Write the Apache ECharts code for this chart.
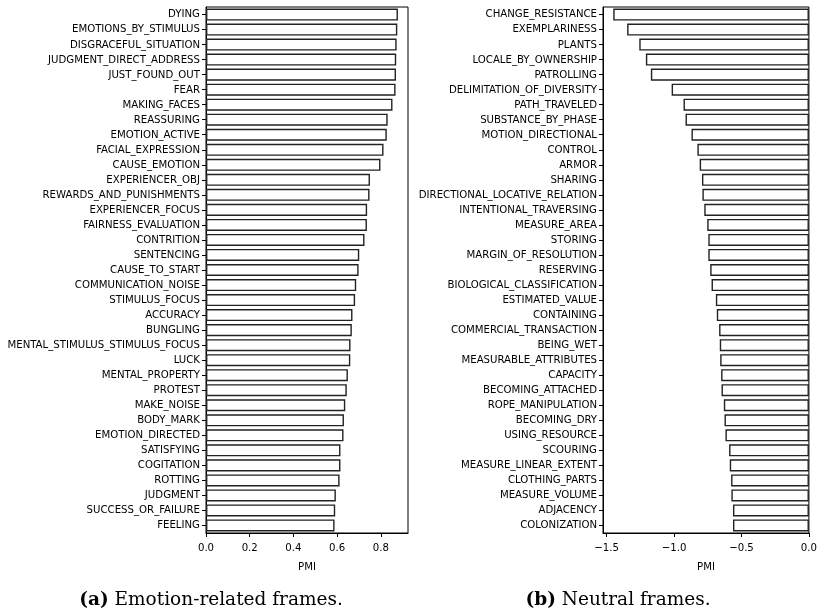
<!DOCTYPE html>
<html>
<head>
<meta charset="utf-8">
<script src="https://cdn.jsdelivr.net/npm/echarts@6/dist/echarts.min.js"></script>
<style>
  html, body { margin: 0; padding: 0; background: #fff; }
  #chart { width: 820px; height: 611px; }
</style>
</head>
<body>
<div id="chart"></div>
<script>
// Emotion-related frames, ordered top to bottom
const emotionFrames = [
  'DYING', 'EMOTIONS_BY_STIMULUS', 'DISGRACEFUL_SITUATION', 'JUDGMENT_DIRECT_ADDRESS',
  'JUST_FOUND_OUT', 'FEAR', 'MAKING_FACES', 'REASSURING', 'EMOTION_ACTIVE',
  'FACIAL_EXPRESSION', 'CAUSE_EMOTION', 'EXPERIENCER_OBJ', 'REWARDS_AND_PUNISHMENTS',
  'EXPERIENCER_FOCUS', 'FAIRNESS_EVALUATION', 'CONTRITION', 'SENTENCING',
  'CAUSE_TO_START', 'COMMUNICATION_NOISE', 'STIMULUS_FOCUS', 'ACCURACY', 'BUNGLING',
  'MENTAL_STIMULUS_STIMULUS_FOCUS', 'LUCK', 'MENTAL_PROPERTY', 'PROTEST', 'MAKE_NOISE',
  'BODY_MARK', 'EMOTION_DIRECTED', 'SATISFYING', 'COGITATION', 'ROTTING', 'JUDGMENT',
  'SUCCESS_OR_FAILURE', 'FEELING'
];
const emotionPMI = [
  0.878, 0.875, 0.872, 0.870, 0.869, 0.867, 0.853, 0.831, 0.827, 0.812, 0.798,
  0.750, 0.748, 0.737, 0.736, 0.725, 0.701, 0.698, 0.687, 0.682, 0.670, 0.667,
  0.661, 0.660, 0.649, 0.644, 0.637, 0.631, 0.629, 0.615, 0.615, 0.611, 0.594,
  0.591, 0.588
];

// Neutral frames, ordered top to bottom
const neutralFrames = [
  'CHANGE_RESISTANCE', 'EXEMPLARINESS', 'PLANTS', 'LOCALE_BY_OWNERSHIP', 'PATROLLING',
  'DELIMITATION_OF_DIVERSITY', 'PATH_TRAVELED', 'SUBSTANCE_BY_PHASE',
  'MOTION_DIRECTIONAL', 'CONTROL', 'ARMOR', 'SHARING', 'DIRECTIONAL_LOCATIVE_RELATION',
  'INTENTIONAL_TRAVERSING', 'MEASURE_AREA', 'STORING', 'MARGIN_OF_RESOLUTION',
  'RESERVING', 'BIOLOGICAL_CLASSIFICATION', 'ESTIMATED_VALUE', 'CONTAINING',
  'COMMERCIAL_TRANSACTION', 'BEING_WET', 'MEASURABLE_ATTRIBUTES', 'CAPACITY',
  'BECOMING_ATTACHED', 'ROPE_MANIPULATION', 'BECOMING_DRY', 'USING_RESOURCE',
  'SCOURING', 'MEASURE_LINEAR_EXTENT', 'CLOTHING_PARTS', 'MEASURE_VOLUME',
  'ADJACENCY', 'COLONIZATION'
];
const neutralPMI = [
  -1.451, -1.348, -1.258, -1.209, -1.172, -1.018, -0.930, -0.915, -0.871, -0.827,
  -0.810, -0.793, -0.790, -0.776, -0.754, -0.746, -0.746, -0.732, -0.722, -0.690,
  -0.683, -0.666, -0.661, -0.658, -0.651, -0.648, -0.631, -0.626, -0.619, -0.592,
  -0.587, -0.577, -0.575, -0.563, -0.563
];

// Tick values for the two PMI axes
const emotionTicks = [0.0, 0.2, 0.4, 0.6, 0.8];
const neutralTicks = [-1.5, -1.0, -0.5, 0.0];

const captions = [
  { tag: '(a)', text: ' Emotion-related frames.' },
  { tag: '(b)', text: ' Neutral frames.' }
];

const labelFont = '"DejaVu Sans Condensed", "Liberation Sans Narrow", "DejaVu Sans", sans-serif';
const captionFont = '"DejaVu Serif", "Liberation Serif", serif';

function fmtTick(v) {
  const s = Math.abs(v).toFixed(1);
  return v < 0 ? '\u2212' + s : s;
}

function valueAxis(gridIndex, min, max, ticks) {
  return {
    type: 'value',
    gridIndex: gridIndex,
    min: min,
    max: max,
    name: 'PMI',
    nameLocation: 'middle',
    nameGap: 29,
    nameTextStyle: { fontFamily: labelFont, fontSize: 11.3, color: '#000' },
    splitLine: { show: false },
    axisLine: { show: true, onZero: false, lineStyle: { color: '#000', width: 1 } },
    axisTick: { show: true, inside: false, length: 4, customValues: ticks, lineStyle: { color: '#000' } },
    axisLabel: {
      customValues: ticks,
      formatter: fmtTick,
      margin: 10,
      fontFamily: labelFont,
      fontSize: 11.3,
      color: '#000'
    }
  };
}

function categoryAxis(gridIndex, cats) {
  return {
    type: 'category',
    gridIndex: gridIndex,
    data: cats,
    inverse: true,
    axisLine: { show: true, onZero: false, lineStyle: { color: '#000', width: 1 } },
    axisTick: { show: true, alignWithLabel: true, length: 4, lineStyle: { color: '#000' } },
    axisLabel: {
      interval: 0,
      margin: 6,
      fontFamily: labelFont,
      fontSize: 11.3,
      color: '#000'
    }
  };
}

const barStyle = { color: '#fff', borderColor: '#222', borderWidth: 1.4 };

const chart = echarts.init(document.getElementById('chart'), null, { renderer: 'canvas' });
chart.setOption({
  animation: false,
  backgroundColor: '#fff',
  grid: [
    { left: 206, top: 7, width: 202, height: 526, show: true, borderColor: '#000', borderWidth: 1, backgroundColor: 'transparent' },
    { left: 603, top: 7, width: 208, height: 526, show: true, borderColor: '#000', borderWidth: 1, backgroundColor: 'transparent' }
  ],
  xAxis: [
    valueAxis(0, 0, 0.924, emotionTicks),
    valueAxis(1, -1.527, 0, neutralTicks)
  ],
  yAxis: [
    categoryAxis(0, emotionFrames),
    categoryAxis(1, neutralFrames)
  ],
  series: [
    {
      type: 'bar', xAxisIndex: 0, yAxisIndex: 0, data: emotionPMI,
      barCategoryGap: '20%', itemStyle: barStyle, silent: true
    },
    {
      type: 'bar', xAxisIndex: 1, yAxisIndex: 1, data: neutralPMI,
      barCategoryGap: '20%', itemStyle: barStyle, silent: true
    }
  ],
  graphic: [
    { cx: 211 }, { cx: 618 }
  ].map(function (pos, i) {
    return {
      type: 'text',
      x: pos.cx,
      y: 600,
      style: {
        text: '{b|' + captions[i].tag + '}{r|' + captions[i].text + '}',
        align: 'center',
        verticalAlign: 'middle',
        rich: {
          b: { fontFamily: captionFont, fontSize: 18.5, fontWeight: 'bold', fill: '#000' },
          r: { fontFamily: captionFont, fontSize: 18.5, fill: '#000' }
        }
      }
    };
  })
});
</script>
</body>
</html>
